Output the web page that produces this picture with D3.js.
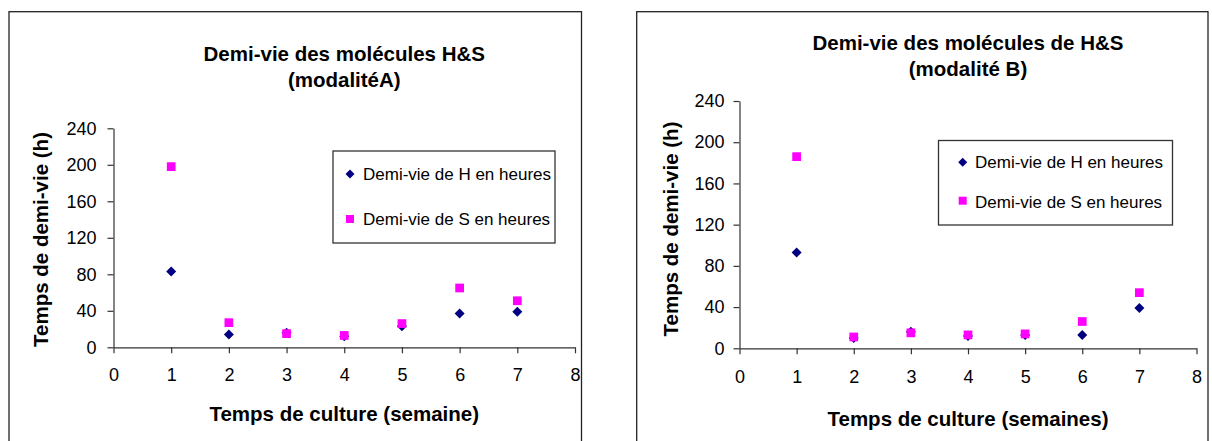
<!DOCTYPE html>
<html>
<head>
<meta charset="utf-8">
<script src="https://cdn.jsdelivr.net/npm/d3@7"></script>
<style>
  html, body { margin: 0; padding: 0; background: #fff; }
  svg { display: block; }
  text { font-family: "Liberation Sans", Arial, sans-serif; fill: #000; }
</style>
</head>
<body>
<svg id="chart" width="1212" height="441"></svg>
<script>
// ---- data ----
const weeks = [1, 2, 3, 4, 5, 6, 7];
const halfLifeH_A = [83, 14, 16, 12, 23, 37, 39];
const halfLifeS_A = [198, 27, 15, 13, 26, 65, 51];
const halfLifeH_B = [93, 10, 16, 12, 13, 13, 39];
const halfLifeS_B = [186, 11, 15, 13, 14, 26, 54];
const xTickValues = [0, 1, 2, 3, 4, 5, 6, 7, 8];
const yTickValues = [0, 40, 80, 120, 160, 200, 240];
const seriesNames = ["Demi-vie de H en heures", "Demi-vie de S en heures"];
const titlesA = ["Demi-vie des molécules H&S", "(modalitéA)"];
const titlesB = ["Demi-vie des molécules de H&S", "(modalité B)"];
const xTitleA = "Temps de culture (semaine)";
const xTitleB = "Temps de culture (semaines)";
const yTitle = "Temps de demi-vie (h)";

const colorH = "#000080";
const colorS = "#ff00ff";

const svg = d3.select("#chart");

function drawPanel(cfg) {
  const g = svg.append("g");
  // outer frame
  g.append("rect")
    .attr("x", cfg.frame[0]).attr("y", cfg.frame[1])
    .attr("width", cfg.frame[2] - cfg.frame[0]).attr("height", 480)
    .attr("fill", "none").attr("stroke", "#222").attr("stroke-width", 1.3);

  const x = d3.scaleLinear().domain([0, 8]).range([cfg.plot.x0, cfg.plot.x1]);
  const y = d3.scaleLinear().domain([0, 240]).range([cfg.plot.y0, cfg.plot.y1]);

  // axes
  const ax = g.append("g").attr("transform", `translate(0,${cfg.plot.y0})`)
    .call(d3.axisBottom(x).tickValues(xTickValues).tickFormat(d3.format("d"))
      .tickSize(6).tickSizeOuter(0).tickPadding(cfg.xPad));
  const ay = g.append("g").attr("transform", `translate(${cfg.plot.x0},0)`)
    .call(d3.axisLeft(y).tickValues(yTickValues).tickFormat(d3.format("d"))
      .tickSize(6).tickSizeOuter(0).tickPadding(cfg.yPad));
  [ax, ay].forEach(a => {
    a.selectAll("path.domain").attr("stroke", "#333").attr("stroke-width", 1.2);
    a.selectAll(".tick line").attr("stroke", "#333").attr("stroke-width", 1.2);
    a.selectAll(".tick text").style("font-family", '"Liberation Sans", Arial, sans-serif')
      .style("font-size", "18px").attr("fill", "#000");
  });

  // markers
  const diamond = d3.symbol().type(d3.symbolSquare).size(50);
  const square = d3.symbol().type(d3.symbolSquare).size(76);
  g.append("g").selectAll("path").data(weeks.map((w, i) => [w, cfg.h[i]])).join("path")
    .attr("d", diamond)
    .attr("transform", d => `translate(${x(d[0])},${y(d[1])}) rotate(45)`)
    .attr("fill", colorH);
  g.append("g").selectAll("path").data(weeks.map((w, i) => [w, cfg.s[i]])).join("path")
    .attr("d", square)
    .attr("transform", d => `translate(${x(d[0])},${y(d[1])})`)
    .attr("fill", colorS);

  // titles
  const cx = (cfg.plot.x0 + cfg.plot.x1) / 2;
  cfg.titles.forEach((t, i) => {
    g.append("text").attr("x", cx).attr("y", cfg.titleY[i])
      .attr("text-anchor", "middle").style("font-size", "20.5px").style("font-weight", "bold")
      .text(t);
  });
  g.append("text").attr("x", cx).attr("y", cfg.xTitleY)
    .attr("text-anchor", "middle").style("font-size", "20.5px").style("font-weight", "bold")
    .text(cfg.xTitle);
  g.append("text")
    .attr("transform", `translate(${cfg.yTitleX},${cfg.yTitleCy}) rotate(-90)`)
    .attr("text-anchor", "middle").style("font-size", "20.5px").style("font-weight", "bold")
    .text(yTitle);

  // legend
  const L = cfg.legend;
  g.append("rect").attr("x", L.x0).attr("y", L.y0)
    .attr("width", L.x1 - L.x0).attr("height", L.y1 - L.y0)
    .attr("fill", "#fff").attr("stroke", "#333").attr("stroke-width", 1.3);
  g.append("path").attr("d", d3.symbol().type(d3.symbolSquare).size(40))
    .attr("transform", `translate(${L.mx},${L.my[0]}) rotate(45)`).attr("fill", colorH);
  g.append("path").attr("d", d3.symbol().type(d3.symbolSquare).size(64))
    .attr("transform", `translate(${L.mx},${L.my[1]})`).attr("fill", colorS);
  seriesNames.forEach((n, i) => {
    g.append("text").attr("x", L.tx).attr("y", L.ty[i])
      .style("font-size", "17px").text(n);
  });
}

drawPanel({
  frame: [9, 11.7, 581.5],
  plot: { x0: 113.5, x1: 575, y0: 347.3, y1: 128.3 },
  xPad: 15, yPad: 11,
  h: halfLifeH_A, s: halfLifeS_A,
  titles: titlesA, titleY: [61, 87],
  xTitle: xTitleA, xTitleY: 421,
  yTitleX: 48, yTitleCy: 239.5,
  legend: { x0: 333, x1: 555, y0: 151, y1: 243, mx: 350, my: [174, 219], tx: 363, ty: [179.5, 225] }
});

drawPanel({
  frame: [636.7, 11.7, 1208],
  plot: { x0: 739.5, x1: 1196.5, y0: 348.3, y1: 101 },
  xPad: 16, yPad: 9,
  h: halfLifeH_B, s: halfLifeS_B,
  titles: titlesB, titleY: [50, 76],
  xTitle: xTitleB, xTitleY: 426,
  yTitleX: 678, yTitleCy: 229,
  legend: { x0: 938.5, x1: 1172.5, y0: 140.5, y1: 225, mx: 962.7, my: [162.3, 200.7], tx: 975, ty: [168, 207.5] }
});
</script>
</body>
</html>
